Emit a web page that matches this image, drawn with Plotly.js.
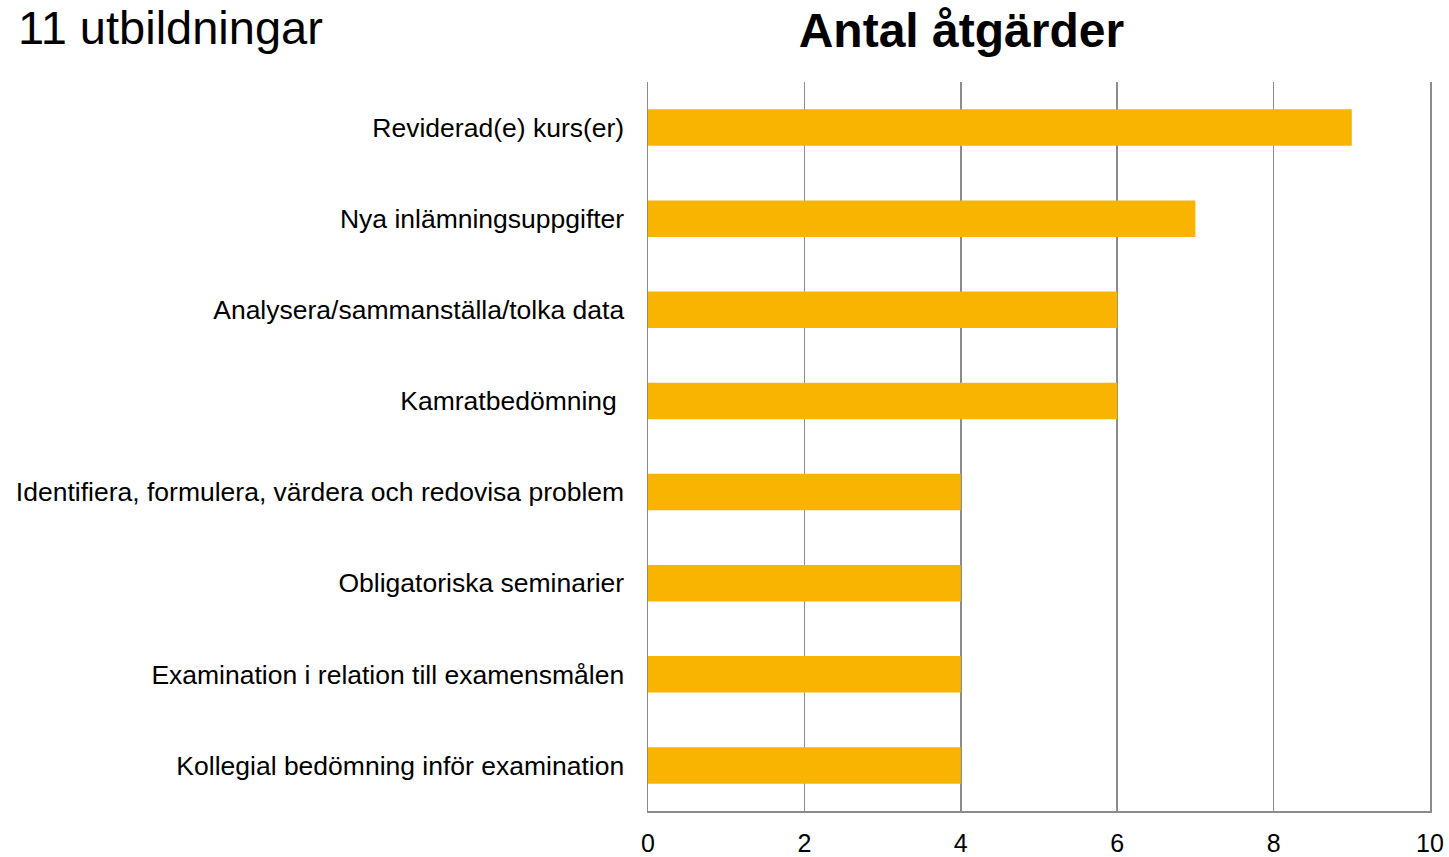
<!DOCTYPE html>
<html>
<head>
<meta charset="utf-8">
<script src="https://cdn.plot.ly/plotly-3.0.1.min.js"></script>
<style>
  html, body { margin: 0; padding: 0; background: #fff; }
  #chart { width: 1449px; height: 857px; }
</style>
</head>
<body>
<div id="chart"></div>
<script>
// kategorier, nedifrån och upp
const categories = [
  "Kollegial bedömning inför examination",
  "Examination i relation till examensmålen",
  "Obligatoriska seminarier",
  "Identifiera, formulera, värdera och redovisa problem",
  "Kamratbedömning\u00a0",
  "Analysera/sammanställa/tolka data",
  "Nya inlämningsuppgifter",
  "Reviderad(e) kurs(er)"
];
const counts = [4, 4, 4, 4, 6, 6, 7, 9];
const xTicks = [0, 2, 4, 6, 8, 10];

const bars = {
  type: "bar",
  orientation: "h",
  y: categories,
  x: counts,
  width: 0.4,
  marker: { color: "#F8B400" },
  hoverinfo: "x+y"
};

const layout = {
  width: 1449,
  height: 857,
  margin: { l: 648, r: 19, t: 82, b: 46 },
  paper_bgcolor: "#ffffff",
  plot_bgcolor: "#ffffff",
  font: { family: "Liberation Sans, Arial, sans-serif", size: 24, color: "#000" },
  title: {
    text: "<b>Antal åtgärder</b>",
    font: { size: 48, color: "#000" },
    x: (961 - 648) / 781, xref: "paper", xanchor: "center",
    y: 0.965, yref: "container", yanchor: "middle"
  },
  showlegend: false,
  xaxis: {
    range: [0, 10],
    tickvals: xTicks,
    ticks: "",
    showgrid: true,
    gridcolor: "#8c8c8c",
    gridwidth: 1.5,
    zeroline: false,
    showline: true,
    linecolor: "#8c8c8c",
    linewidth: 1.5,
    mirror: false,
    ticklabelstandoff: 9,
    tickfont: { size: 25 },
    fixedrange: true
  },
  yaxis: {
    ticks: "",
    showgrid: false,
    zeroline: false,
    showline: true,
    mirror: true,
    linecolor: "#8c8c8c",
    linewidth: 1.5,
    ticklabelstandoff: 17,
    tickfont: { size: 26.5 },
    automargin: false,
    fixedrange: true
  },
  annotations: [
    {
      text: "11 utbildningar",
      xref: "paper", yref: "paper",
      x: (18 - 648) / 781, y: 1 + 82 / 729,
      xanchor: "left", yanchor: "top",
      borderpad: 0,
      showarrow: false,
      font: { size: 47, color: "#000" }
    }
  ]
};

Plotly.newPlot("chart", [bars], layout, { displayModeBar: false, staticPlot: true });
</script>
</body>
</html>
